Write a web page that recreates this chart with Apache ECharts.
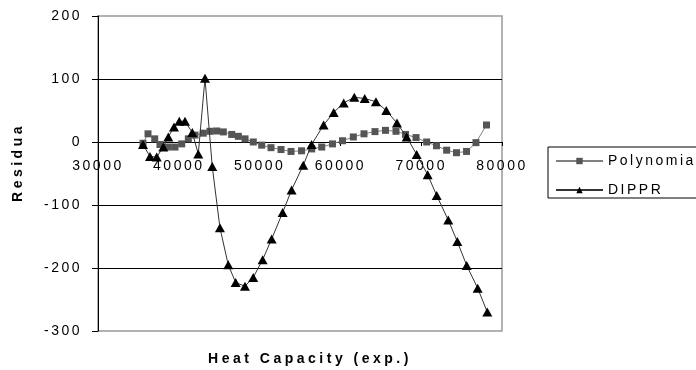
<!DOCTYPE html>
<html>
<head>
<meta charset="utf-8">
<title>Residuals</title>
<script src="https://cdn.jsdelivr.net/npm/echarts@6/dist/echarts.min.js"></script>
<style>
  html, body { margin: 0; padding: 0; background: #fff; }
  #chart { width: 696px; height: 370px; }
</style>
</head>
<body>
<div id="chart"></div>
<script>
// values
const polyX = [35570, 36190, 37020, 37670, 38700, 39530, 40360, 41180, 42000, 43030,
  43860, 44690, 45510, 46550, 47370, 48200, 49220, 50260, 51410, 52650,
  53890, 55190, 56450, 57690, 59020, 60260, 61600, 62920, 64280, 65580,
  66880, 68060, 69360, 70680, 71890, 73150, 74370, 75610, 76780, 78080];
const polyY = [-2, 13, 5, -4, -8, -8, -3, 5, 11, 14,
  17, 17.5, 16, 12, 9, 5, 0, -5, -9, -12,
  -15, -14, -11, -8, -3, 2, 8, 13, 16.5, 18.5,
  17, 12, 7, 0, -6, -13, -17, -15, -1, 27];

const dipprX = [35570, 36435, 37265, 38080, 38700, 39405, 40060, 40765, 41670, 42410,
  43240, 44140, 45090, 46120, 47035, 48185, 49210, 50375, 51490, 52850,
  53960, 55400, 56435, 57920, 59170, 60410, 61720, 63010, 64400, 65680,
  67000, 68200, 69440, 70800, 71920, 73350, 74470, 75630, 76990, 78180];
const dipprY = [-4, -23, -24, -8, 8, 24, 33, 33, 15, -19,
  101, -39, -136, -195, -223, -229, -215, -187, -154, -112,
  -76, -37, -4, 27, 47, 62, 71, 69, 64, 50,
  30, 8, -20, -52, -85, -124, -158, -196, -232, -270];

const seriesNames = ['Polynomial', 'DIPPR'];
const xTitle = 'Heat Capacity (exp.)';
const yTitle = 'Residual';

const FONT = '"Liberation Sans", Arial, sans-serif';

// old Excel charts space their letters out
const fillText = CanvasRenderingContext2D.prototype.fillText;
CanvasRenderingContext2D.prototype.fillText = function () {
  this.letterSpacing = /bold/.test(this.font) ? '3.5px' : '2.5px';
  return fillText.apply(this, arguments);
};

const polyData = polyX.map((x, i) => [x, polyY[i]]);
const dipprData = dipprX.map((x, i) => [x, dipprY[i]]);

const chart = echarts.init(document.getElementById('chart'));

// the x axis sits on y = 0: plot is 315px tall for 500 units, 0 lies 189px above the bottom
const xAxisOffset = -189;

const option = {
  animation: false,
  textStyle: { fontFamily: FONT },
  grid: {
    left: 98,
    right: 194,
    top: 16,
    bottom: 39,
    outerBoundsMode: 'none',
    show: true,
    borderColor: '#999',
    borderWidth: 1.5
  },
  legend: {
    orient: 'vertical',
    left: 548,
    top: 147,
    itemWidth: 47,
    itemHeight: 8,
    itemGap: 15,
    padding: [7, 40, 1, 7],
    borderColor: '#000',
    borderWidth: 1,
    textStyle: { fontSize: 14, color: '#000', fontFamily: FONT },
    data: seriesNames
  },
  xAxis: {
    type: 'value',
    position: 'bottom',
    offset: xAxisOffset,
    min: 30000,
    max: 80000,
    interval: 10000,
    name: xTitle,
    nameLocation: 'middle',
    nameGap: 210,
    nameTextStyle: {
      fontSize: 14,
      fontWeight: 'bold',
      color: '#000',
      fontFamily: FONT,
      padding: [0, 0, 0, 20]
    },
    axisLine: { onZero: false, lineStyle: { color: '#000', width: 1 } },
    axisTick: { show: true, length: 4, lineStyle: { color: '#000' } },
    axisLabel: {
      margin: 17,
      fontSize: 14,
      color: '#000',
      fontFamily: FONT,
      formatter: v => String(v)
    },
    splitLine: { show: false }
  },
  yAxis: {
    type: 'value',
    position: 'left',
    min: -300,
    max: 200,
    interval: 100,
    name: yTitle,
    nameLocation: 'middle',
    nameGap: 73,
    nameTruncate: { maxWidth: 56, ellipsis: '' },
    nameTextStyle: {
      fontSize: 14,
      fontWeight: 'bold',
      color: '#000',
      fontFamily: FONT,
      padding: [0, 0, 0, 22]
    },
    axisLine: { show: true, onZero: false, lineStyle: { color: '#000', width: 1 } },
    axisTick: { show: true, length: 6, lineStyle: { color: '#000' } },
    axisLabel: {
      margin: 16,
      fontSize: 14,
      color: '#000',
      fontFamily: FONT,
      formatter: v => String(v)
    },
    splitLine: {
      show: true,
      showMinLine: false,
      showMaxLine: false,
      lineStyle: { color: '#000', width: 1 }
    }
  },
  series: [
    {
      name: seriesNames[0],
      type: 'line',
      data: polyData,
      symbol: 'rect',
      symbolSize: 7,
      z: 2,
      itemStyle: { color: '#555' },
      lineStyle: { color: '#808080', width: 1 }
    },
    {
      name: seriesNames[1],
      type: 'line',
      data: dipprData,
      symbol: 'triangle',
      symbolSize: [10, 9],
      z: 3,
      itemStyle: { color: '#000' },
      lineStyle: { color: '#333', width: 1 }
    }
  ]
};

chart.setOption(option);
</script>
</body>
</html>
